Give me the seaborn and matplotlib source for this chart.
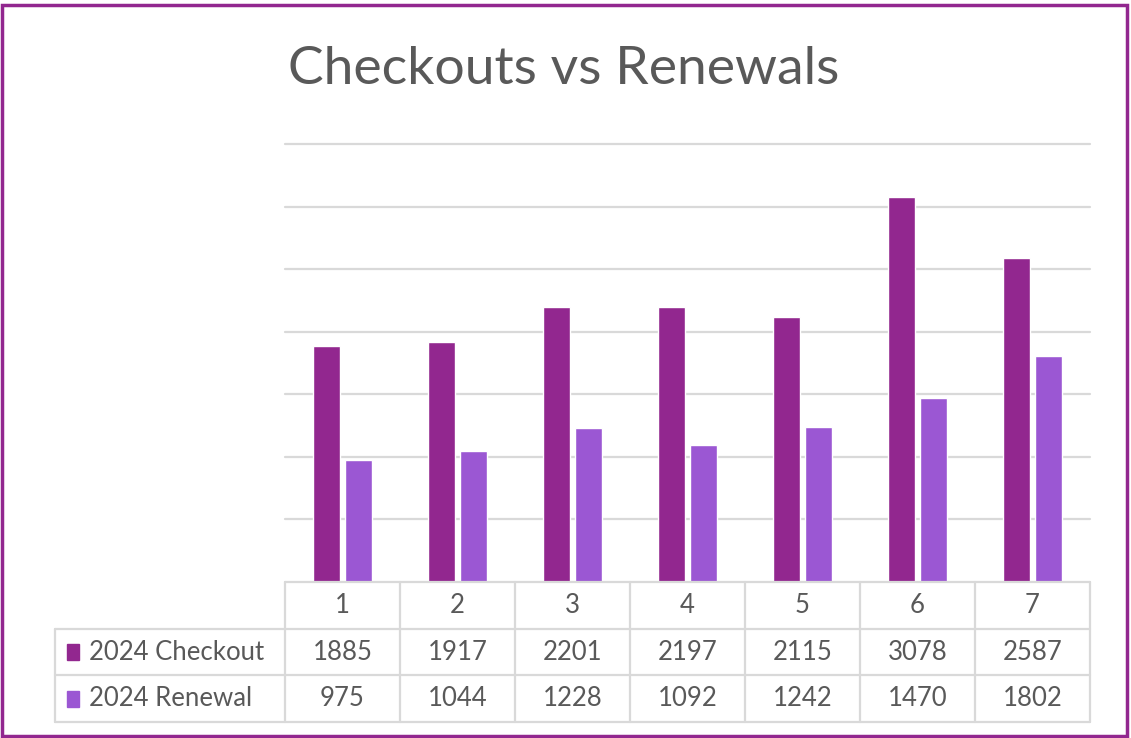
import matplotlib
matplotlib.use("Agg")
import matplotlib.pyplot as plt
from matplotlib.patches import Rectangle
import seaborn as sns
import pandas as pd

# chart data
months = ["1", "2", "3", "4", "5", "6", "7"]
checkouts = [1885, 1917, 2201, 2197, 2115, 3078, 2587]
renewals = [975, 1044, 1228, 1092, 1242, 1470, 1802]
series_names = ["2024 Checkout", "2024 Renewal"]
colors = ["#92278F", "#9B57D3"]

TEXT = "#595959"
GRID = "#D9D9D9"

sns.set_style("white")
plt.rcParams["font.family"] = ["Lato", "DejaVu Sans"]

df = pd.DataFrame({
    "month": months * 2,
    "value": checkouts + renewals,
    "series": [series_names[0]] * len(months) + [series_names[1]] * len(months),
})

W, H = 1131, 738
fig = plt.figure(figsize=(W / 100, H / 100), dpi=100)

# plot area
ax = fig.add_axes([285 / W, 1 - 582 / H, (1090 - 285) / W, (582 - 144) / H])
sns.barplot(data=df, x="month", y="value", hue="series", palette=colors,
            width=0.556, gap=0.15, ax=ax, legend=False, saturation=1)
ax.set_xlim(-0.5, len(months) - 0.5)
ax.set_ylim(0, 3500)
ax.set_yticks(range(500, 3501, 500))
ax.grid(axis="y", color=GRID, lw=1.6)
for gl in ax.get_ygridlines():
    gl.set_clip_on(False)
ax.set_axisbelow(True)
ax.tick_params(left=False, bottom=False, labelleft=False, labelbottom=False)
ax.set_xlabel("")
ax.set_ylabel("")
for s in ax.spines.values():
    s.set_visible(False)

# data table under the plot
tax = fig.add_axes([55 / W, 1 - 722 / H, (1090 - 55) / W, (722 - 582) / H])
tax.set_xlim(-2.5, len(months) - 0.5)
tax.set_ylim(0, 3)
tax.axis("off")

lw = 1.6
n = len(months)
tax.plot([-0.5, n - 0.5], [3, 3], color=GRID, lw=lw, clip_on=False)
for yy in [2, 1, 0]:
    tax.plot([-2.5, n - 0.5], [yy, yy], color=GRID, lw=lw, clip_on=False)
for i in range(n + 1):
    tax.plot([i - 0.5, i - 0.5], [0, 3], color=GRID, lw=lw, clip_on=False)
tax.plot([-2.5, -2.5], [0, 2], color=GRID, lw=lw, clip_on=False)

fs = 18.5
for i, m in enumerate(months):
    tax.text(i, 2.5, m, ha="center", va="center", fontsize=fs, color=TEXT)
rows = [checkouts, renewals]
for r, (vals, name, c) in enumerate(zip(rows, series_names, colors)):
    yc = 1.5 - r
    for i, v in enumerate(vals):
        tax.text(i, yc, str(v), ha="center", va="center", fontsize=fs, color=TEXT)
    tax.add_patch(Rectangle((-2.4, yc - 0.17), 0.11, 0.34, color=c, clip_on=False))
    tax.text(-2.2, yc, name, ha="left", va="center", fontsize=fs, color=TEXT)

fig.text(564 / W, 1 - 70 / H, "Checkouts vs Renewals", ha="center", va="center",
         fontsize=38.5, color=TEXT)

# outer border
fig.patches.append(Rectangle((2 / W, 2 / H), (W - 6) / W, (H - 7) / H,
                             transform=fig.transFigure, fill=False,
                             edgecolor="#92278F", lw=2.5))

fig.savefig("out.png", dpi=100)
